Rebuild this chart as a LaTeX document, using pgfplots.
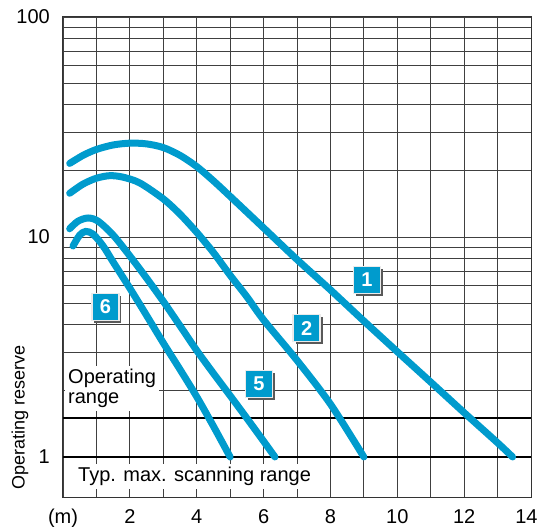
\documentclass[border=0pt]{standalone}
\usepackage{fontspec}
\setmainfont{Liberation Sans}
\usepackage{pgfplots}
\pgfplotsset{compat=1.18}
\usetikzlibrary{shadows}
\definecolor{curveblue}{RGB}{0,155,205}
\begin{document}
\fontsize{20}{20}\selectfont
\begin{tikzpicture}
\useasboundingbox (0,0) rectangle (539pt,527pt);
\begin{axis}[
  at={(63pt,29pt)}, anchor=south west,
  scale only axis, width=468pt, height=481pt,
  xmin=0, xmax=14, ymode=log, ymin=0.651, ymax=100,
  xtick={0,2,4,6,8,10,12,14},
  xticklabels={(m),2,4,6,8,10,12,{\makebox[0pt]{\kern-9pt 14}}},
  minor xtick={1,3,5,7,9,11,13},
  ytick={1,10,100}, yticklabels={1,10,100},
  minor ytick={2,3,4,5,6,7,8,9,20,30,40,50,60,70,80,90},
  grid=both,
  major grid style={black!75, line width=0.9pt},
  minor grid style={black!75, line width=0.9pt},
  major tick length=0pt, minor tick length=0pt,
  axis line style={black!80, line width=1pt},
  tick label style={font=\fontsize{20}{20}\selectfont},
  xticklabel style={anchor=base, inner sep=0pt, yshift=-26pt},
  yticklabel style={anchor=east, inner sep=0pt, xshift=-13pt},
  ylabel={Operating reserve},
  ylabel style={at={(axis description cs:-0.092,0.167)}, anchor=center, font=\fontsize{18}{18}\selectfont},
]
% reference lines
\addplot[black, line width=2pt] coordinates {(0,1) (14,1)};
\addplot[black, line width=2pt] coordinates {(0,1.5) (14,1.5)};

% text boxes
\node[anchor=north west, align=left, fill=white, inner sep=3pt, font=\fontsize{20}{20}\selectfont]
  at (axis cs:0.06,2.59) {Operating\\range};
\node[anchor=base west, fill=white, inner sep=3pt, font=\fontsize{20}{20}\selectfont]
  at (axis cs:0.36,0.772) {Typ. max. scanning range};

% curves
\addplot[curveblue, line width=7pt, smooth, line cap=round] coordinates {
 (0.2,21.6) (0.6,23.5) (1.0,25.0) (1.5,26.2) (2.0,26.7) (2.5,26.5) (3.0,25.5)
 (3.5,23.5) (4.0,20.9) (4.5,18.0) (5.0,15.3) (6.0,11.0) (7.0,7.9) (8.0,5.75)
 (9.0,4.15) (10,3.01) (11,2.19) (12,1.59) (13,1.16) (13.45,1.0)};
\addplot[curveblue, line width=7pt, smooth, line cap=round] coordinates {
 (0.2,15.8) (0.6,17.4) (1.0,18.5) (1.4,19.0) (1.8,18.7) (2.3,17.6) (3.0,14.9)
 (3.5,12.7) (4.0,10.5) (4.5,8.5) (5.0,6.7) (5.5,5.35) (6.0,4.2) (7.0,2.75)
 (8.0,1.74) (9.0,1.0)};
\addplot[curveblue, line width=7pt, smooth, line cap=round] coordinates {
 (0.2,10.9) (0.45,11.8) (0.75,12.2) (1.05,11.8) (1.5,10.2) (2.0,8.2) (2.5,6.5)
 (3.0,5.1) (3.5,3.95) (4.0,3.05) (4.5,2.4) (5.0,1.9) (5.5,1.5) (6.0,1.18) (6.34,1.0)};
\addplot[curveblue, line width=7pt, smooth, line cap=round] coordinates {
 (0.3,9.1) (0.5,10.2) (0.68,10.6) (0.9,10.3) (1.2,9.1) (1.5,7.7) (2.0,5.85)
 (2.5,4.4) (3.0,3.3) (3.5,2.5) (4.0,1.88) (4.5,1.38) (5.0,1.0)};

% number boxes
\tikzset{numbox/.style={fill=curveblue, text=white, font=\fontsize{20}{20}\selectfont\bfseries,
  minimum size=27pt, inner sep=0pt, draw=black!8, line width=1.5pt,
  drop shadow={shadow xshift=2.5pt, shadow yshift=-2.5pt, fill=black!65, opacity=1}}}
\node[numbox] at (axis cs:9.09,6.38) {1};
\node[numbox] at (axis cs:7.29,3.85) {2};
\node[numbox] at (axis cs:5.86,2.15) {5};
\node[numbox] at (axis cs:1.27,4.81) {6};
\end{axis}
\end{tikzpicture}
\end{document}
